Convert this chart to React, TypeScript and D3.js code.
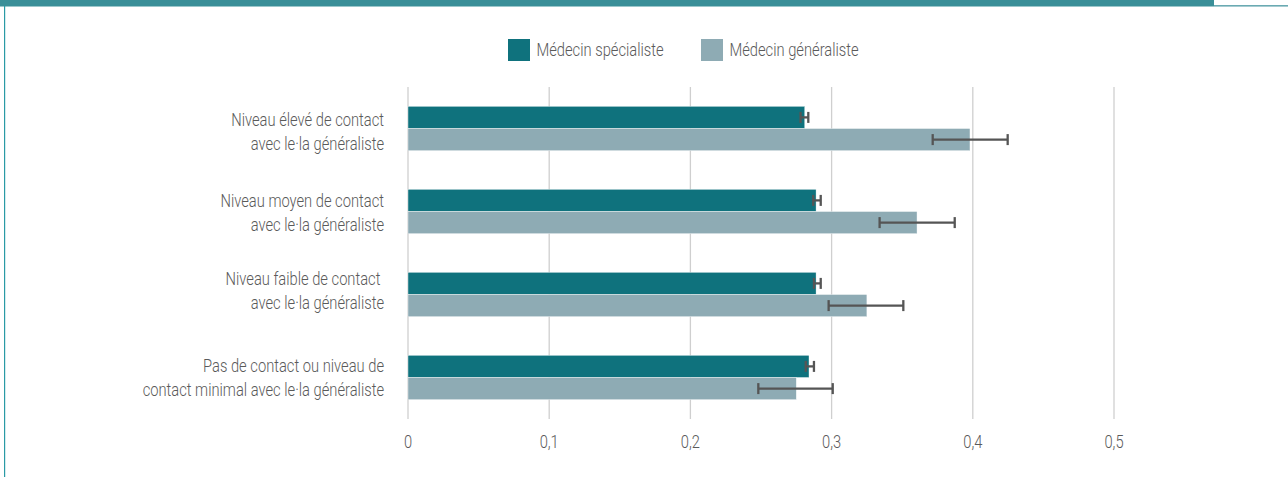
import React from "react";
import * as d3 from "d3";

const categories: string[][] = [
  ["Niveau élevé de contact", "avec le·la généraliste"],
  ["Niveau moyen de contact", "avec le·la généraliste"],
  ["Niveau faible de contact ", "avec le·la généraliste"],
  ["Pas de contact ou niveau de", "contact minimal avec le·la généraliste"],
];
const seriesNames = ["Médecin spécialiste", "Médecin généraliste"];
const specialiste = [0.281, 0.289, 0.289, 0.284];
const specialisteLow = [0.278, 0.287, 0.2875, 0.2817];
const specialisteHigh = [0.2835, 0.2923, 0.2923, 0.2875];
const generaliste = [0.398, 0.3605, 0.325, 0.275];
const generalisteLow = [0.3716, 0.334, 0.2979, 0.2481];
const generalisteHigh = [0.4247, 0.3872, 0.3508, 0.3008];
const tickValues = [0, 0.1, 0.2, 0.3, 0.4, 0.5];

const W = 1288;
const H = 477;
const COLORS = ["#0f727d", "#8eabb4"];
const TEXT = "#5a5a5a";
const FONT = "Roboto, 'Noto Sans', sans-serif";
const SX = 0.775;
const FS = 19;
const LABEL_NUDGE = [3.5, 1.5, -4, 0];

export default function App() {
  const x = d3.scaleLinear().domain([0, 0.5]).range([408, 1114]);
  const y = d3
    .scaleBand<number>()
    .domain(categories.map((_, i) => i))
    .range([87, 419])
    .paddingInner(0.465)
    .paddingOuter(0.2325);
  const inner = d3.scaleBand<number>().domain([0, 1]).range([0, y.bandwidth()]);

  const series = [
    { vals: specialiste, lo: specialisteLow, hi: specialisteHigh },
    { vals: generaliste, lo: generalisteLow, hi: generalisteHigh },
  ];

  const fmt = (v: number) => (v === 0 ? "0" : d3.format(".1f")(v).replace(".", ","));

  const Txt = ({ tx, ty, anchor, children }: any) => (
    <text
      transform={`translate(${tx},${ty}) scale(${SX},1)`}
      textAnchor={anchor}
      fontFamily={FONT}
      fontWeight={300}
      fontSize={FS}
      fill={TEXT}
      xmlSpace="preserve"
      style={{ whiteSpace: "pre" }}
    >
      {children}
    </text>
  );

  return (
    <svg
      width={W}
      height={H}
      style={{ position: "absolute", left: 0, top: 0, background: "#fff" }}
    >
      <rect x={0} y={0} width={1214} height={6.5} fill="#3a8f98" />
      <rect x={1214} y={5} width={74} height={1.6} fill="#6aaab2" />
      <rect x={4} y={6} width={1.2} height={H - 6} fill="#2a9aa5" />

      {seriesNames.map((name, i) => {
        const lx = i === 0 ? 508 : 701;
        return (
          <g key={name}>
            <rect x={lx} y={39} width={22} height={22} fill={COLORS[i]} />
            <Txt tx={lx + 28.5} ty={56} anchor="start">
              {name}
            </Txt>
          </g>
        );
      })}

      {tickValues.map((t) => (
        <line
          key={t}
          x1={x(t)}
          x2={x(t)}
          y1={87}
          y2={419}
          stroke="#cfcfcf"
          strokeWidth={1.3}
        />
      ))}

      {categories.map((_, ci) =>
        series.map((s, si) => {
          const by = (y(ci) as number) + (inner(si) as number);
          const bh = inner.bandwidth();
          const cy = by + bh / 2;
          return (
            <g key={`${ci}-${si}`}>
              <rect
                x={x(0)}
                y={by}
                width={x(s.vals[ci]) - x(0)}
                height={bh}
                fill={COLORS[si]}
                stroke="#ffffff"
                strokeWidth={0.4}
              />
              <line x1={x(s.lo[ci])} x2={x(s.hi[ci])} y1={cy} y2={cy} stroke="#555" strokeWidth={2.3} />
              <line x1={x(s.lo[ci])} x2={x(s.lo[ci])} y1={cy - 5.5} y2={cy + 5.5} stroke="#555" strokeWidth={2.3} />
              <line x1={x(s.hi[ci])} x2={x(s.hi[ci])} y1={cy - 5.5} y2={cy + 5.5} stroke="#555" strokeWidth={2.3} />
            </g>
          );
        })
      )}

      {categories.map((lines, ci) => {
        const c = (y(ci) as number) + y.bandwidth() / 2;
        const base = c - 6 + LABEL_NUDGE[ci];
        return (
          <g key={ci}>
            {lines.map((l, li) => (
              <Txt key={li} tx={384} ty={base + li * 24} anchor="end">
                {l}
              </Txt>
            ))}
          </g>
        );
      })}

      {tickValues.map((t) => (
        <Txt key={t} tx={x(t)} ty={447.5} anchor="middle">
          {fmt(t)}
        </Txt>
      ))}
    </svg>
  );
}
